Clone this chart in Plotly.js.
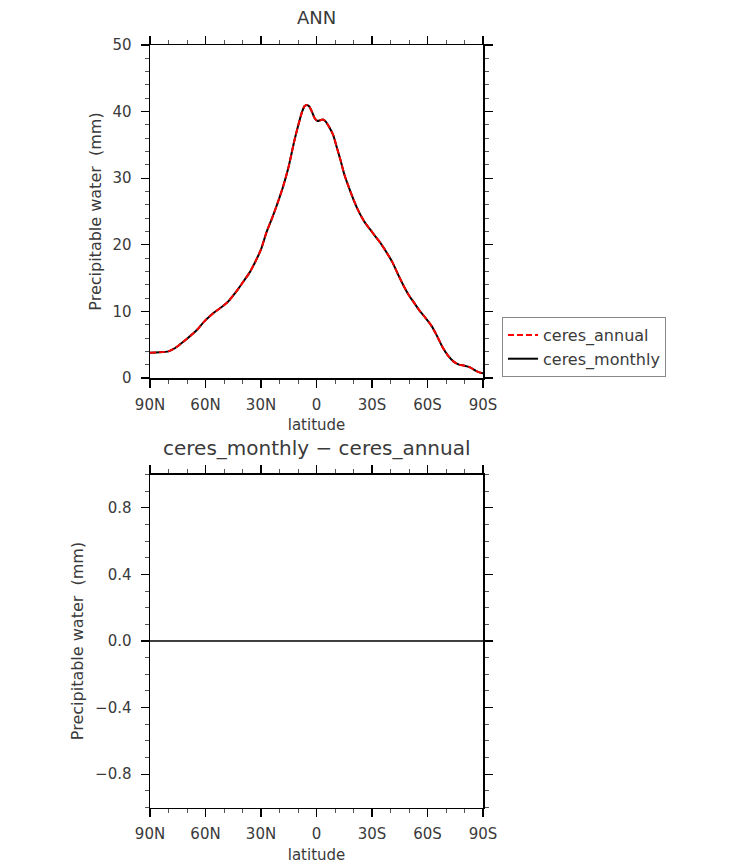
<!DOCTYPE html>
<html>
<head>
<meta charset="utf-8">
<script src="https://cdn.plot.ly/plotly-3.0.1.min.js"></script>
<style>html,body{margin:0;padding:0;background:#fff;}#chart{width:733px;height:866px;}</style>
</head>
<body>
<div id="chart"></div>
<script>
// Latitudes (degrees, + = N, - = S)
const lat = [90, 85, 80, 77, 74, 70, 67, 64, 61, 58, 55, 52, 48, 45, 42, 39, 36, 33, 30, 27, 24, 21, 18, 15, 12, 10, 8, 6.5, 5.3, 4, 2.5, 1, -0.5, -2, -3.5, -5, -7, -9, -11, -13, -15, -17, -20, -23, -26, -29, -32, -35, -38, -41, -44, -47, -50, -53, -56, -59, -62, -65, -68, -71, -74, -77, -80, -83, -86, -88, -90];
// Precipitable water (mm)
const ceresAnnual = [3.8, 3.85, 4.0, 4.4, 5.0, 5.9, 6.6, 7.4, 8.4, 9.2, 9.9, 10.5, 11.4, 12.4, 13.5, 14.7, 15.9, 17.5, 19.3, 21.9, 24.0, 26.3, 28.8, 31.8, 35.6, 37.8, 39.8, 40.8, 41.0, 40.8, 40.0, 39.0, 38.6, 38.7, 38.8, 38.5, 37.6, 36.5, 34.6, 32.7, 30.6, 29.0, 26.8, 24.9, 23.4, 22.3, 21.2, 20.1, 18.8, 17.4, 15.6, 13.9, 12.4, 11.2, 10.0, 9.0, 7.9, 6.4, 4.7, 3.4, 2.5, 2.0, 1.85, 1.6, 1.1, 0.85, 0.7];
const ceresMonthly = [3.8, 3.85, 4.0, 4.4, 5.0, 5.9, 6.6, 7.4, 8.4, 9.2, 9.9, 10.5, 11.4, 12.4, 13.5, 14.7, 15.9, 17.5, 19.3, 21.9, 24.0, 26.3, 28.8, 31.8, 35.6, 37.8, 39.8, 40.8, 41.0, 40.8, 40.0, 39.0, 38.6, 38.7, 38.8, 38.5, 37.6, 36.5, 34.6, 32.7, 30.6, 29.0, 26.8, 24.9, 23.4, 22.3, 21.2, 20.1, 18.8, 17.4, 15.6, 13.9, 12.4, 11.2, 10.0, 9.0, 7.9, 6.4, 4.7, 3.4, 2.5, 2.0, 1.85, 1.6, 1.1, 0.85, 0.7];
// Difference (ceres_monthly - ceres_annual)
const diffLat = [90, 60, 30, 0, -30, -60, -90];
const diffValues = [0, 0, 0, 0, 0, 0, 0];
// Tick labels
const latTickVals = [90, 60, 30, 0, -30, -60, -90];
const latTickText = ["90N", "60N", "30N", "0", "30S", "60S", "90S"];

const FONT = "DejaVu Sans";
const TXT = "#3a3a3a";

const W = 733, H = 866;
const xDom = [150 / W, 483 / W];
const yDomTop = [(H - 378) / H, (H - 45) / H];
const yDomBot = [(H - 807.5) / H, (H - 474.5) / H];

function xAxis(anchor) {
  return {
    domain: xDom, anchor: anchor, range: [90, -90], autorange: false,
    tickmode: "array", tickvals: latTickVals, ticktext: latTickText,
    ticks: "outside", ticklen: 8, tickwidth: 1.2, tickcolor: "#000",
    ticklabelstandoff: 4,
    minor: {dtick: 10, tick0: 0, ticks: "outside", ticklen: 4, tickwidth: 1, tickcolor: "#555", showgrid: false},
    showline: true, linecolor: "#000", linewidth: 1.5, mirror: "ticks",
    showgrid: false, zeroline: false,
    tickfont: {family: FONT, size: 15, color: TXT},
    title: {text: "latitude", font: {family: FONT, size: 15, color: TXT}, standoff: 7}
  };
}
function yAxis(anchor, dom, range, tickvals, tickformat, minorDtick) {
  return {
    domain: dom, anchor: anchor, range: range, autorange: false,
    tickmode: "array", tickvals: tickvals, tickformat: tickformat,
    ticks: "outside", ticklen: 8, tickwidth: 1.2, tickcolor: "#000",
    ticklabelstandoff: 6,
    minor: {dtick: minorDtick, tick0: 0, ticks: "outside", ticklen: 4, tickwidth: 1, tickcolor: "#555", showgrid: false},
    showline: true, linecolor: "#000", linewidth: 1.5, mirror: "ticks",
    showgrid: false, zeroline: false,
    tickfont: {family: FONT, size: 15, color: TXT},
    title: {text: "Precipitable water  (mm)", font: {family: FONT, size: 16, color: TXT}, standoff: 7}
  };
}

const traces = [
  {x: lat, y: ceresMonthly, xaxis: "x", yaxis: "y", type: "scatter", mode: "lines",
   name: "ceres_monthly", line: {color: "#000", width: 2, shape: "spline", smoothing: 0.6}, legendrank: 2},
  {x: lat, y: ceresAnnual, xaxis: "x", yaxis: "y", type: "scatter", mode: "lines",
   name: "ceres_annual", line: {color: "#ff0000", width: 2, dash: "6px,3px", shape: "spline", smoothing: 0.6}, legendrank: 1},
  {x: diffLat, y: diffValues, xaxis: "x2", yaxis: "y2", type: "scatter", mode: "lines",
   name: "difference", line: {color: "#000", width: 1.5}, showlegend: false}
];

const layout = {
  width: W, height: H,
  margin: {l: 0, r: 0, t: 0, b: 0},
  paper_bgcolor: "#fff", plot_bgcolor: "#fff",
  font: {family: FONT, color: TXT},
  xaxis: xAxis("y"),
  yaxis: yAxis("x", yDomTop, [0, 50], [0, 10, 20, 30, 40, 50], "d", 2),
  xaxis2: xAxis("y2"),
  yaxis2: yAxis("x2", yDomBot, [-1, 1], [-0.8, -0.4, 0, 0.4, 0.8], ".1f", 0.1),
  showlegend: true,
  legend: {
    x: 502 / W, y: (H - 317) / H, xanchor: "left", yanchor: "top",
    bordercolor: "#888", borderwidth: 1, bgcolor: "#fff",
    font: {family: FONT, size: 16, color: TXT},
    traceorder: "normal", tracegroupgap: 0
  },
  annotations: [
    {text: "ANN", xref: "paper", yref: "paper", x: 316.5 / W, y: (H - 17) / H,
     xanchor: "center", yanchor: "middle", showarrow: false,
     font: {family: FONT, size: 18, color: TXT}},
    {text: "ceres_monthly \u2212 ceres_annual", xref: "paper", yref: "paper", x: 316.5 / W, y: (H - 448) / H,
     xanchor: "center", yanchor: "middle", showarrow: false,
     font: {family: FONT, size: 20, color: TXT}}
  ]
};

Plotly.newPlot("chart", traces, layout, {displayModeBar: false, staticPlot: true});
</script>
</body>
</html>
